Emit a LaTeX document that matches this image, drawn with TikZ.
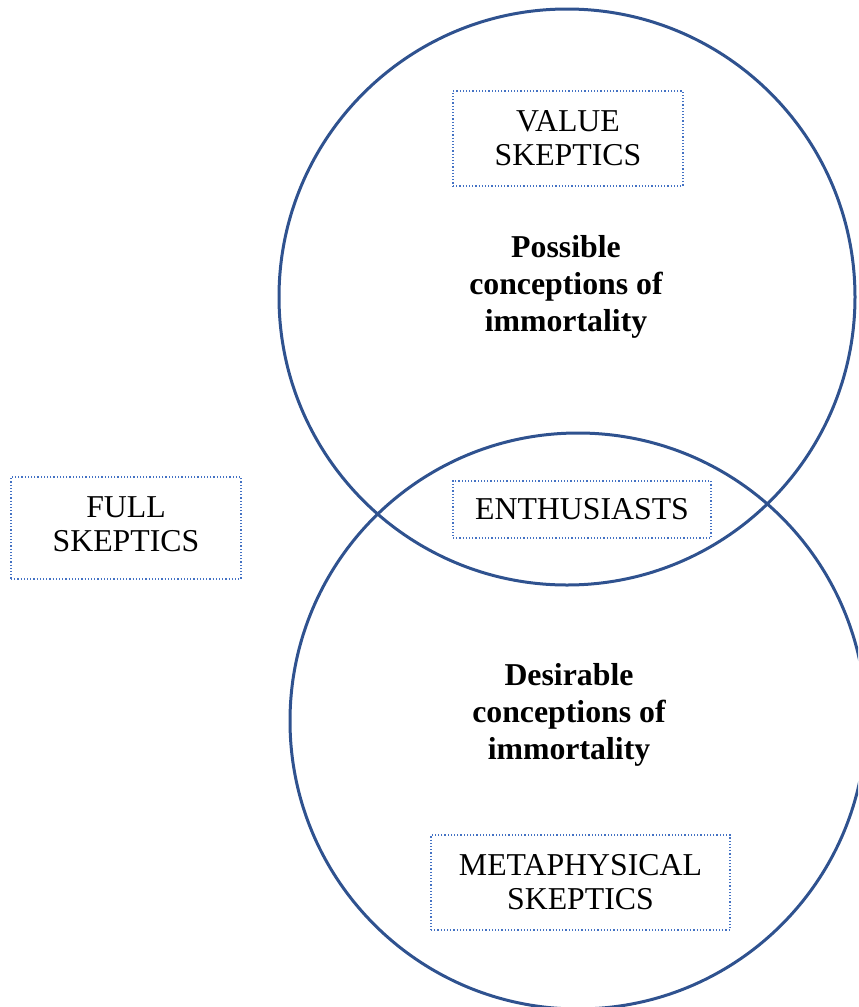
\documentclass[tikz,border=0pt]{standalone}
\usepackage{fontspec}
\setmainfont{Liberation Serif}
\usetikzlibrary{positioning, shapes.geometric}
\definecolor{ringblue}{RGB}{47,82,143}
\definecolor{dotblue}{RGB}{68,114,196}

\begin{document}
\begin{tikzpicture}[
    x=0.5pt, y=-0.5pt,
    ring/.style={
        circle,
        draw=ringblue,     % dark blue outline
        line width=1.5pt,
        minimum size=288pt, % diameter of each set
        inner sep=0pt
    },
    tag/.style={
        draw=dotblue,
        densely dotted,
        line width=0.6pt,
        align=center,
        inner sep=0pt,
        font=\fontsize{15.9}{17}\selectfont
    },
    setname/.style={
        align=center,
        font=\fontsize{15.9}{18.5}\selectfont\bfseries
    }
]
    \useasboundingbox (0,0) rectangle (858,1007);
    \clip (0,0) rectangle (858,1007);

    % the two sets
    \node[ring] (possible) at (567,297) {};
    \node[ring] (desirable) at (578,721) {};

    % set labels
    \node[setname] (possiblename) at (566,287) {Possible\\conceptions of\\immortality};
    \node[setname] (desirablename) at (569,715) {Desirable\\conceptions of\\immortality};

    % the four positions
    \node[tag, minimum width=115pt, minimum height=47.5pt] (value) at (568,138.5) {VALUE\\SKEPTICS};
    \node[tag, minimum width=115pt, minimum height=51pt] (full) at (126,528) {FULL\\SKEPTICS\vphantom{g}};
    \node[tag, minimum width=129pt, minimum height=28.5pt] (enthusiasts) at (582,509.5) {ENTHUSIASTS};
    \node[tag, minimum width=149.5pt, minimum height=47.5pt] (metaphysical) at (580.5,882.5) {METAPHYSICAL\\SKEPTICS};
\end{tikzpicture}
\end{document}
